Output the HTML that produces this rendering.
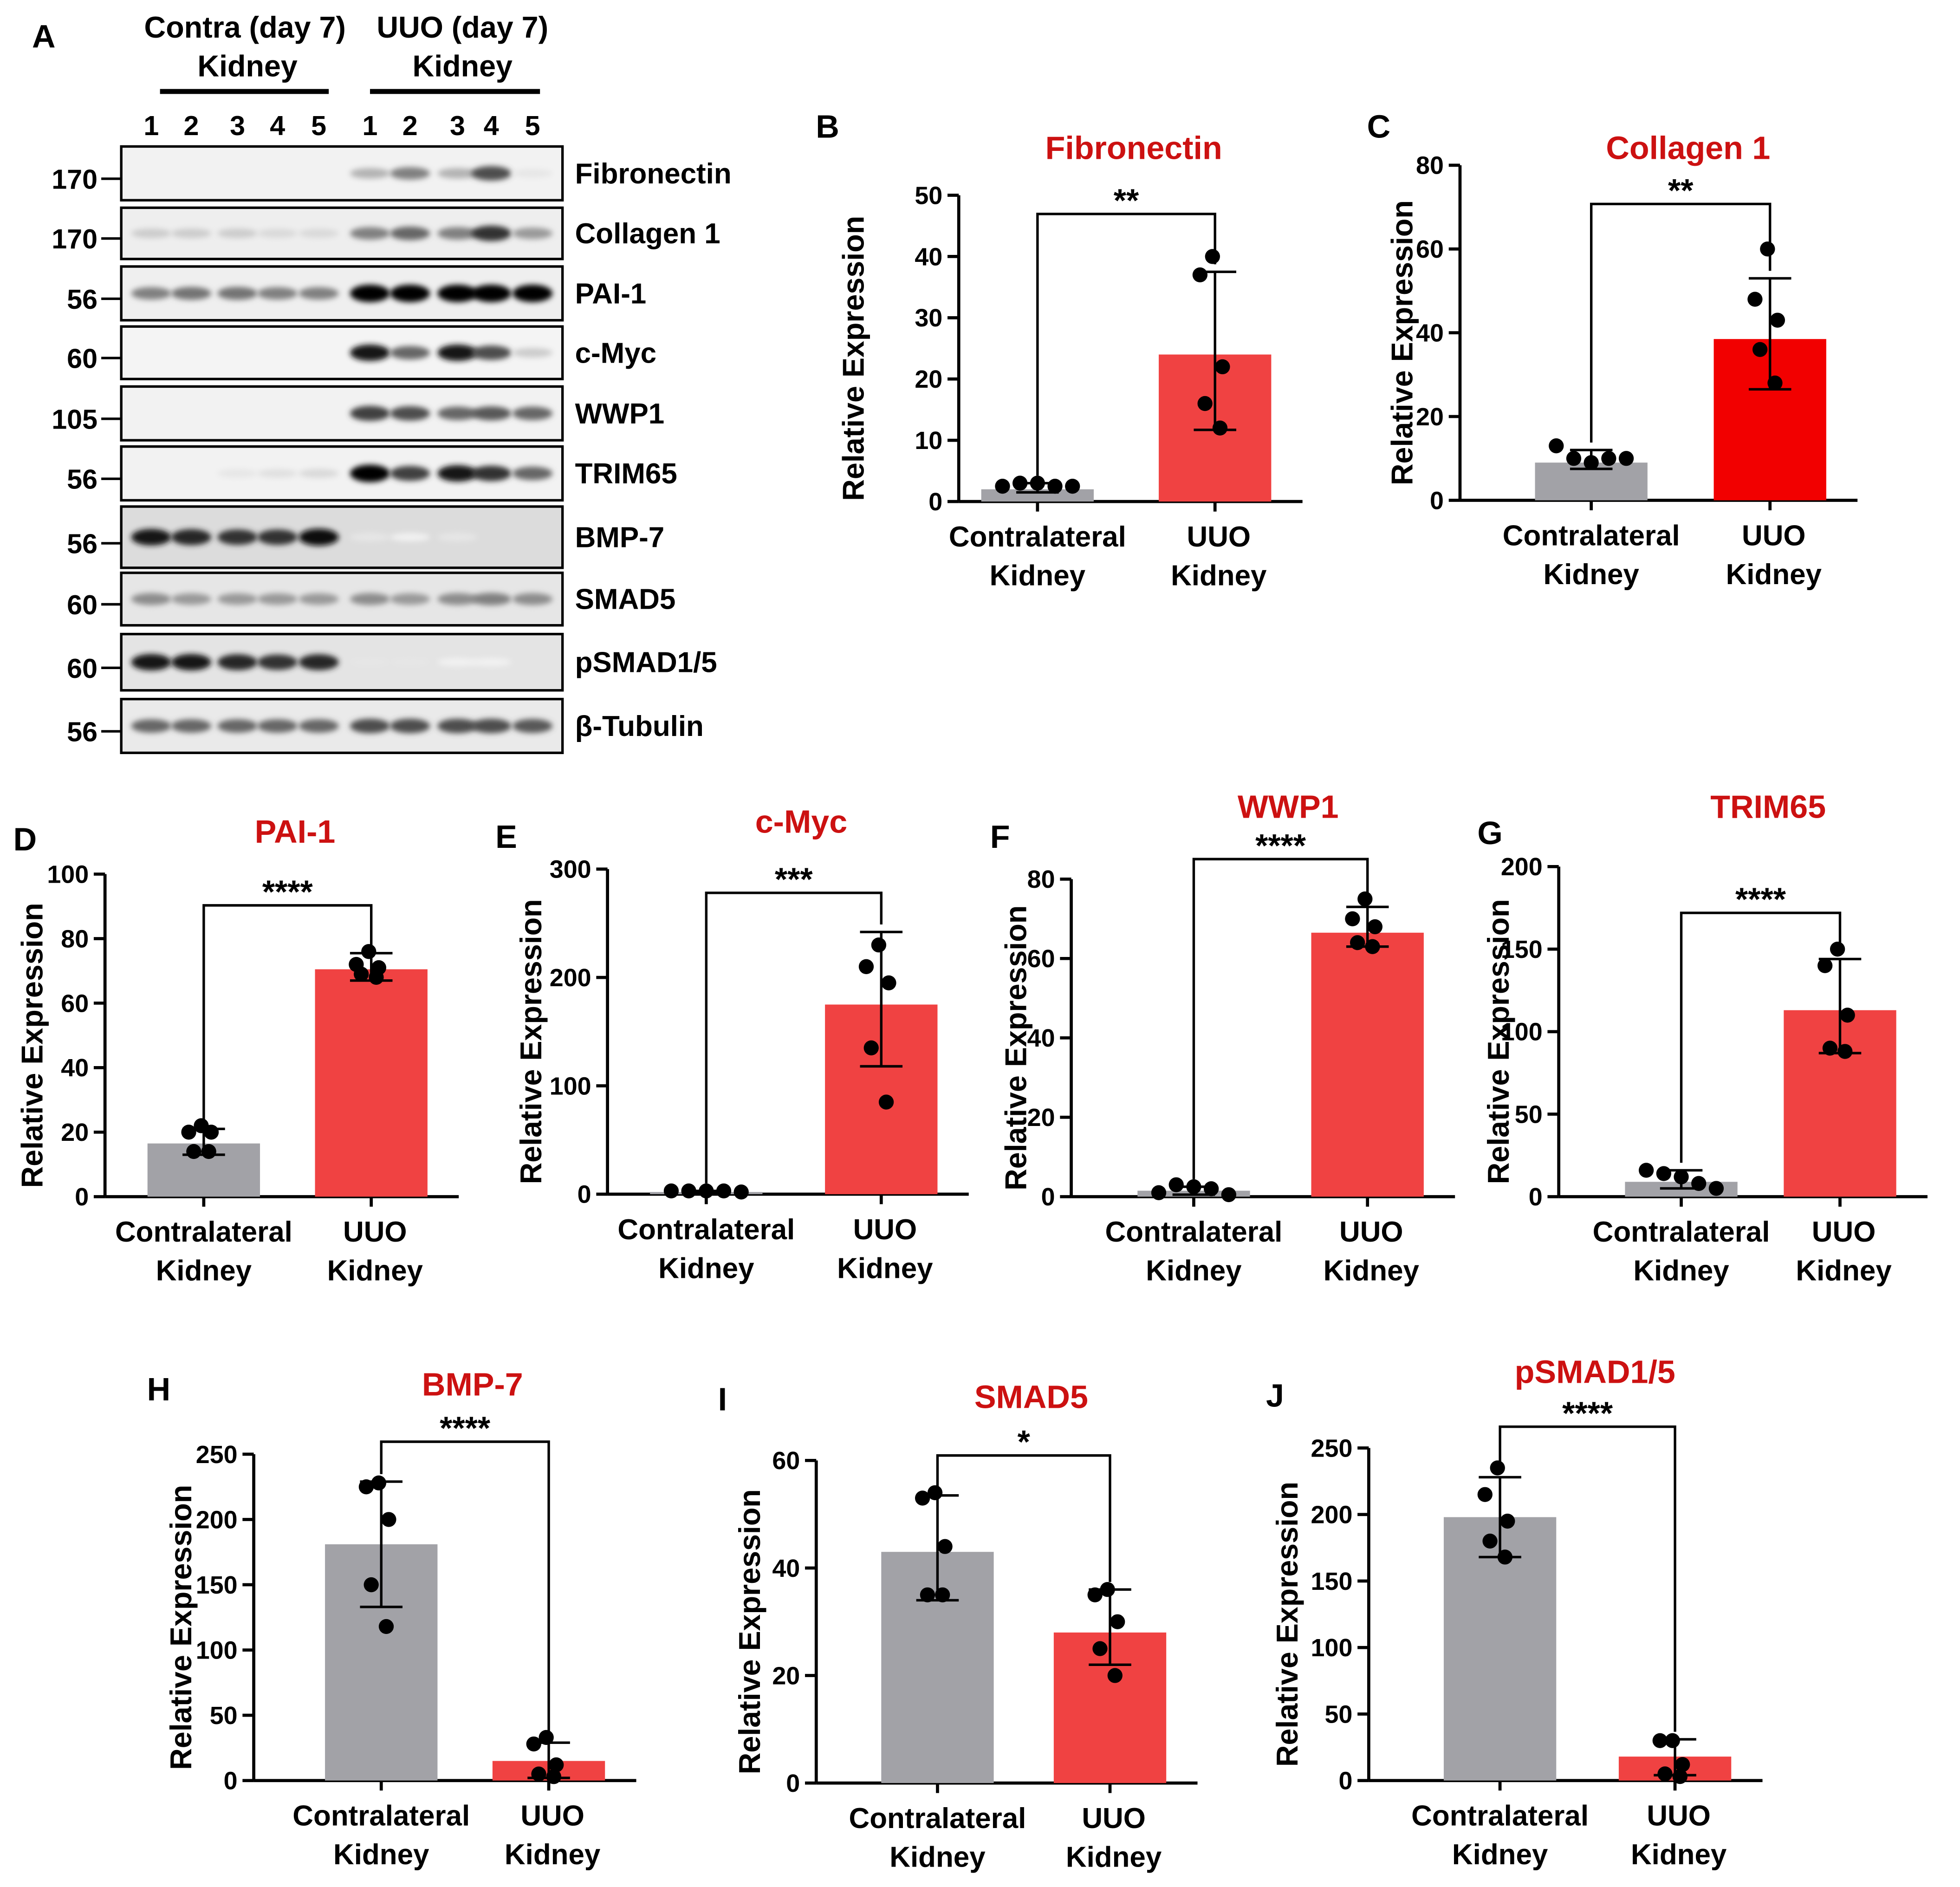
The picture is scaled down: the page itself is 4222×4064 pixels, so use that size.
<!DOCTYPE html>
<html><head><meta charset="utf-8"><style>
html,body{margin:0;padding:0;background:#fff}
svg{display:block}
text{font-family:"Liberation Sans",sans-serif;font-weight:bold}
</style></head><body>
<svg id="fig" width="4222" height="4064" viewBox="0 0 1568 1509" xmlns="http://www.w3.org/2000/svg">
<defs><filter id="blur" x="-50%" y="-100%" width="200%" height="300%"><feGaussianBlur stdDeviation="2.2"/></filter></defs>
<g id="blotg"></g>
<g id="chartsg"></g>
</svg>
<script>
// ---- Blot data (band intensity per lane, 10 lanes) ----
const blotNames=["Fibronectin","Collagen 1","PAI-1","c-Myc","WWP1","TRIM65","BMP-7","SMAD5","pSMAD1/5","β-Tubulin"];
const blotMarkers=["170","170","56","60","105","56","56","60","60","56"];
const blotIntensity=[
[0,0,0,0,0,0.3,0.5,0.3,0.7,0.1],
[0.2,0.2,0.2,0.15,0.15,0.5,0.6,0.5,0.8,0.4],
[0.5,0.55,0.55,0.5,0.5,1,1,1,1,1],
[0,0,0,0,0,0.9,0.6,0.9,0.7,0.2],
[0,0,0,0,0,0.75,0.7,0.6,0.65,0.6],
[0,0,0.1,0.12,0.15,1,0.75,0.9,0.8,0.6],
[0.9,0.85,0.8,0.8,0.95,0.1,0.05,0.1,0,0],
[0.45,0.4,0.4,0.4,0.4,0.45,0.4,0.45,0.5,0.45],
[0.9,0.9,0.85,0.8,0.85,0.1,0.1,0.05,0.05,0],
[0.6,0.6,0.6,0.6,0.6,0.7,0.7,0.7,0.7,0.65]];
const blotBg=["#f2f2f2","#eeeeee","#efefef","#f4f4f4","#f2f2f2","#f2f2f2","#dcdcdc","#e6e6e6","#e4e4e4","#eaeaea"];
const rowTop=[117,166,213,261,309,357,405,458,507,559];
const rowH=[43,41,43,42,43,43,49,42,45,43];
const laneX=[121,153,190,222,255,296,328,366,393,426];
const NS="http://www.w3.org/2000/svg";
function el(tag,attrs,parent,txt){const e=document.createElementNS(NS,tag);for(const k in attrs)e.setAttribute(k,attrs[k]);if(txt!==undefined)e.textContent=txt;parent.appendChild(e);return e;}
const bg=document.getElementById('blotg');
let t=el('text',{x:35,y:38,'font-size':26,'text-anchor':'middle'},bg,'A');
[[196,30,'Contra (day 7)'],[198,61,'Kidney'],[370,30,'UUO (day 7)'],[370,61,'Kidney']].forEach(a=>{const e=el('text',{x:a[0],y:a[1],'font-size':24,'text-anchor':'middle'},bg,a[2]);});
el('line',{x1:128,x2:263,y1:73,y2:73,stroke:'#000','stroke-width':4},bg);
el('line',{x1:296,x2:432,y1:73,y2:73,stroke:'#000','stroke-width':4},bg);
const laneNums=[1,2,3,4,5,1,2,3,4,5];
laneNums.forEach((n,i)=>{const e=el('text',{x:laneX[i],y:108,'font-size':22,'text-anchor':'middle'},bg,n);});
blotNames.forEach((nm,r)=>{
 const y=rowTop[r],h=rowH[r];
 const g=el('g',{},bg);
 el('rect',{x:97,y:y,width:353,height:h,fill:blotBg[r],stroke:'#000','stroke-width':2},g);
 blotIntensity[r].forEach((v,i)=>{if(v<=0)return;const c=Math.round(255*(1-v));
  el('ellipse',{cx:laneX[i],cy:y+h/2,rx:16,ry:3+4*v,fill:`rgb(${c},${c},${c})`,filter:'url(#blur)'},g);});
 const my=y+h*0.6;
 let m=el('text',{x:78,y:my+8,'font-size':22,'text-anchor':'end'},g,blotMarkers[r]);
 el('line',{x1:81,x2:97,y1:my,y2:my,stroke:'#000','stroke-width':2},g);
 let l=el('text',{x:460,y:y+h/2+8,'font-size':23},g,nm);
});

// ---- Bar chart data ----
const groups=["Contralateral Kidney","UUO Kidney"];
const B_means=[2,24], B_err=[[1.5,3],[11.7,37.5]], B_pts=[[2.5,3,3,2.5,2.5],[40,37,22,16,12]], B_ticks=[0,10,20,30,40,50];
const C_means=[9,38.5], C_err=[[7.5,12],[26.5,53]], C_pts=[[13,10,9,10,10],[60,48,43,36,28]], C_ticks=[0,20,40,60,80];
const D_means=[16.5,70.5], D_err=[[13,21],[67,75.5]], D_pts=[[22,20,20,14,14],[76,72,71,69,68]], D_ticks=[0,20,40,60,80,100];
const E_means=[2,175], E_err=[[1,3],[118,242]], E_pts=[[3,3,3,3,2],[230,210,195,135,85]], E_ticks=[0,100,200,300];
const F_means=[1.5,66.5], F_err=[[0.5,2.5],[63,73]], F_pts=[[1,3,2.5,2,0.5],[75,70,68,64,63]], F_ticks=[0,20,40,60,80];
const G_means=[9,113], G_err=[[5,16],[87,144]], G_pts=[[16,14,12,8,5],[150,140,110,90,88]], G_ticks=[0,50,100,150,200];
const H_means=[181,15], H_err=[[133,229],[2,29]], H_pts=[[228,225,200,150,118],[33,28,12,5,3]], H_ticks=[0,50,100,150,200,250];
const I_means=[43,28], I_err=[[34,53.5],[22,36]], I_pts=[[54,53,44,35,35],[36,35,30,25,20]], I_ticks=[0,20,40,60];
const J_means=[198,18], J_err=[[168,228],[4,31]], J_pts=[[235,215,195,180,168],[30,30,12,5,3]], J_ticks=[0,50,100,150,200,250];

// layout (positions only)
const panels=[
{id:'B',title:'Fibronectin',means:B_means,err:B_err,pts:B_pts,ticks:B_ticks,ax:767,y0:401,yt:156,cx:[830,972],lx:662,ly:110,ty:127,brTop:171,stars:'**',red:'#f04242',tx:683},
{id:'C',title:'Collagen 1',means:C_means,err:C_err,pts:C_pts,ticks:C_ticks,ax:1168,y0:400,yt:132,cx:[1273,1416],lx:1103,ly:110,ty:127,brTop:163,stars:'**',red:'#f20000',tx:1122},
{id:'D',title:'PAI-1',means:D_means,err:D_err,pts:D_pts,ticks:D_ticks,ax:84,y0:957,yt:699,cx:[163,297],lx:20,ly:680,ty:674,brTop:724,stars:'****',red:'#f04242',tx:26},
{id:'E',title:'c-Myc',means:E_means,err:E_err,pts:E_pts,ticks:E_ticks,ax:486,y0:955,yt:695,cx:[565,705],lx:405,ly:678,ty:666,brTop:714,stars:'***',red:'#f04242',tx:425},
{id:'F',title:'WWP1',means:F_means,err:F_err,pts:F_pts,ticks:F_ticks,ax:857,y0:957,yt:703,cx:[955,1094],lx:800,ly:678,ty:654,brTop:687,stars:'****',red:'#f04242',tx:813},
{id:'G',title:'TRIM65',means:G_means,err:G_err,pts:G_pts,ticks:G_ticks,ax:1247,y0:957,yt:693,cx:[1345,1472],lx:1192,ly:675,ty:654,brTop:730,stars:'****',red:'#f04242',tx:1199},
{id:'H',title:'BMP-7',means:H_means,err:H_err,pts:H_pts,ticks:H_ticks,ax:203,y0:1424,yt:1163,cx:[305,439],lx:127,ly:1120,ty:1116,brTop:1153,stars:'****',red:'#f04242',tx:145},
{id:'I',title:'SMAD5',means:I_means,err:I_err,pts:I_pts,ticks:I_ticks,ax:653,y0:1426,yt:1168,cx:[750,888],lx:578,ly:1128,ty:1126,brTop:1164,stars:'*',red:'#f04242',tx:600},
{id:'J',title:'pSMAD1/5',means:J_means,err:J_err,pts:J_pts,ticks:J_ticks,ax:1095,y0:1424,yt:1158,cx:[1200,1340],lx:1020,ly:1125,ty:1106,brTop:1141,stars:'****',red:'#f04242',tx:1030}];
const jitter=[-2,-12,6,-8,4];
const jitterFlat=[-28,-14,0,14,28];
const cg=document.getElementById('chartsg');
panels.forEach(p=>{
 const g=el('g',{},cg);
 
 
 const tmax=p.ticks[p.ticks.length-1];
 const Y=v=>p.y0-(v/tmax)*(p.y0-p.yt);
 let e=el('text',{x:p.lx,y:p.ly,'font-size':26,'text-anchor':'middle'},g,p.id);
 
 e=el('text',{x:(p.cx[0]+p.cx[1])/2+6,y:p.ty,'font-size':26,'text-anchor':'middle',fill:'#cc1111'},g,p.title);
 
 el('line',{x1:p.ax,x2:p.ax,y1:p.yt,y2:p.y0,stroke:'#000','stroke-width':2.5},g);
 el('line',{x1:p.ax,x2:p.cx[1]+70,y1:p.y0,y2:p.y0,stroke:'#000','stroke-width':2.5},g);
 p.ticks.forEach(tv=>{const y=Y(tv);el('line',{x1:p.ax-9,x2:p.ax,y1:y,y2:y,stroke:'#000','stroke-width':2.5},g);
  const tl=el('text',{x:p.ax-13,y:y+7,'font-size':20,'text-anchor':'end'},g,tv);
  });
 p.cx.forEach(cx=>el('line',{x1:cx,x2:cx,y1:p.y0,y2:p.y0+8,stroke:'#000','stroke-width':2.5},g));
 const mid=(p.yt+p.y0)/2+8;
 const tx=p.tx+8;
 e=el('text',{x:tx,y:mid,'font-size':24,'text-anchor':'middle',transform:`rotate(-90 ${tx} ${mid})`},g,'Relative Expression');
 
 groups.forEach((gn,i)=>{
  const cx=p.cx[i];
  const b=el('rect',{x:cx-45,y:Y(p.means[i]),width:90,height:p.y0-Y(p.means[i]),fill:i?p.red:'#a2a2a7'},g);
  
  const [lo,hi]=p.err[i];
  el('line',{x1:cx,x2:cx,y1:Y(lo),y2:Y(hi),stroke:'#000','stroke-width':2},g);
  [lo,hi].forEach(v=>el('line',{x1:cx-17,x2:cx+17,y1:Y(v),y2:Y(v),stroke:'#000','stroke-width':2},g));
  const vals=p.pts[i];
  const flat=(Math.max(...vals)-Math.min(...vals))/tmax<0.08;
  vals.forEach((v,k)=>{const c=el('circle',{cx:cx+(flat?jitterFlat[k]:jitter[k]),cy:Y(v),r:6,fill:'#000'},g);});
  const w=gn.split(' ');
  w.forEach((ww,j)=>{const xl=el('text',{x:cx+(i?3:0),y:p.y0+36+j*31,'font-size':23,'text-anchor':'middle'},g,ww);});
 });
 const tops=p.err.map(e=>Y(e[1])-6);
 el('polyline',{points:`${p.cx[0]},${tops[0]} ${p.cx[0]},${p.brTop} ${p.cx[1]},${p.brTop} ${p.cx[1]},${tops[1]}`,fill:'none',stroke:'#000','stroke-width':2},g);
 e=el('text',{x:(p.cx[0]+p.cx[1])/2,y:p.brTop-2,'font-size':26,'text-anchor':'middle'},g,p.stars);
 
});
</script>
</body></html>
